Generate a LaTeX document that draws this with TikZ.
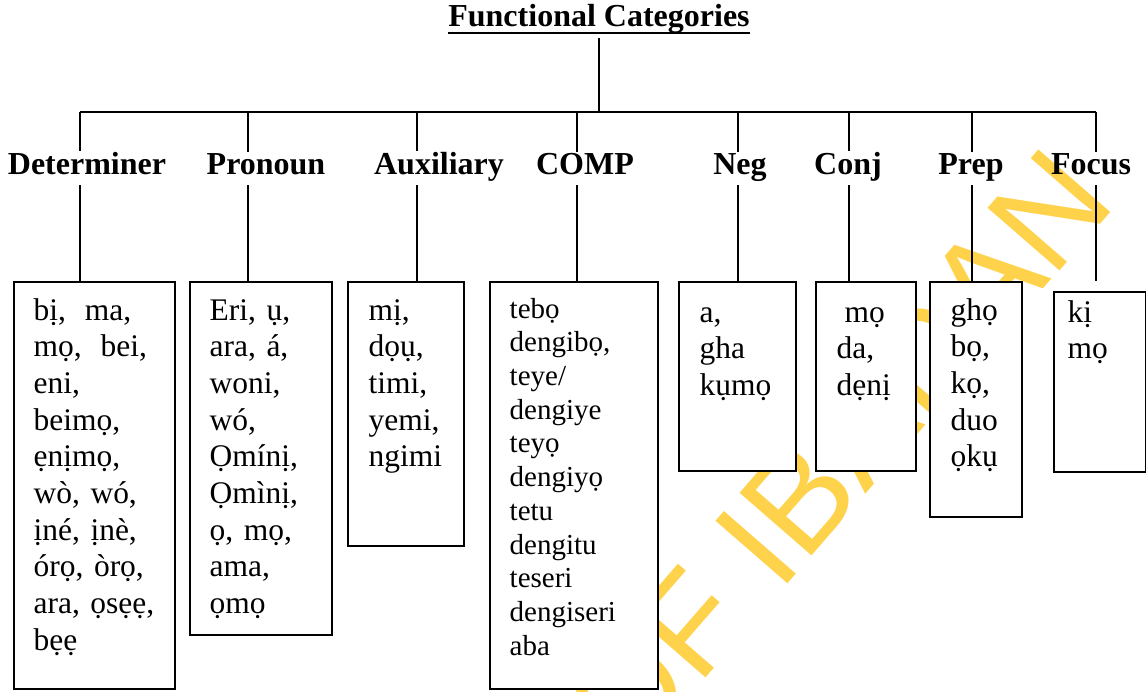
\documentclass[tikz,border=0pt]{standalone}
\usepackage{fontspec}
\setmainfont{Liberation Serif}
\newfontfamily\wmfont{Liberation Sans}
\definecolor{wmyellow}{RGB}{255,210,75}

\begin{document}
\begin{tikzpicture}[x=0.75pt,y=-0.75pt,line width=1.1pt,
  head/.style={font=\fontsize{24}{28}\selectfont\bfseries,inner sep=0pt,anchor=base},
  wbox/.style={draw,line width=1.4pt,fill=white,anchor=north west,inner sep=0pt},
  words/.style={font=\fontsize{23.6}{27.5}\selectfont,inner sep=0pt,anchor=base west,text width=#1,align=left},
  stamp/.style={text=wmyellow,font=\wmfont\fontsize{104}{104}\selectfont,rotate=49,anchor=base west,inner sep=0pt}]
\useasboundingbox (0,0) rectangle (1146,692);

\node[stamp] (wm) at (627,768) {OF IBADAN};

\node[head] (title) at (599,27) {Functional Categories};
\draw[line width=2pt] ([yshift=-4.5pt]title.base west) -- ([yshift=-4.5pt]title.base east);
\coordinate (hub) at (599,112);
\coordinate (barL) at (80,112);
\coordinate (barR) at (1096,112);
\draw (title.south -| hub) ++(0,3) -- (hub);
\draw (barL) -- (barR);

\foreach \nm/\tx/\bx/\txt in {det/87/80/Determiner,pro/266/248/Pronoun,aux/439/417/Auxiliary,
    comp/585/577/COMP,neg/740/738/Neg,conj/848/849/Conj,prep/971/972/Prep,focus/1091/1096/Focus} {
  \node[head] (\nm) at (\tx,174) {\txt};
  \coordinate (\nm up) at (\bx,112);
  \coordinate (\nm low) at (\bx,185);
  \coordinate (\nm foot) at (\bx,281);
  \draw (\nm up) -- (\nm up |- \nm.north);
  \draw (\nm low) -- (\nm foot);
}

\foreach \nm/\l/\t/\w/\h in {det/13/281/161/407,pro/189/281/142/353,aux/347/281/116/264,
    comp/489/281/168/407,neg/678/281/117/189,conj/815/281/100/189,prep/929/281/92/235,focus/1053/291/92/180}
  \node[wbox,minimum width=0.75pt*\w,minimum height=0.75pt*\h] (\nm box) at (\l,\t) {};

\node[words=100pt] (detw) at (33,320) {bị,\hspace{0.6em}ma,\\ mọ,\hspace{0.6em}bei,\\ eni,\\ beimọ,\\ ẹnịmọ,\\ wò, wó,\\ ịné, ịnè,\\ órọ, òrọ,\\ ara, ọsẹẹ,\\ bẹẹ};
\node[words=86pt] (prow) at (209,320) {Eri, ụ,\\ ara, á,\\ woni,\\ wó,\\ Ọmínị,\\ Ọmìnị,\\ ọ, mọ,\\ ama,\\ ọmọ};
\node[words=66pt] (auxw) at (368,320) {mị,\\ dọụ,\\ timi,\\ yemi,\\ ngimi};
\node[words=106pt,font=\fontsize{21.75}{25.3}\selectfont] (compw) at (509,318) {tebọ\\ dengibọ,\\ teye/\\ dengiye\\ teyọ\\ dengiyọ\\ tetu\\ dengitu\\ teseri\\ dengiseri\\ aba};
\node[words=68pt] (negw) at (699,322) {a,\\ gha\\ kụmọ};
\node[words=56pt] (conjw) at (836,322) {\hspace*{0.25em}mọ\\ da,\\ dẹnị};
\node[words=50pt] (prepw) at (950,320) {ghọ\\ bọ,\\ kọ,\\ duo\\ ọkụ};
\node[words=56pt] (focusw) at (1067,322) {kị\\ mọ};
\end{tikzpicture}
\end{document}
